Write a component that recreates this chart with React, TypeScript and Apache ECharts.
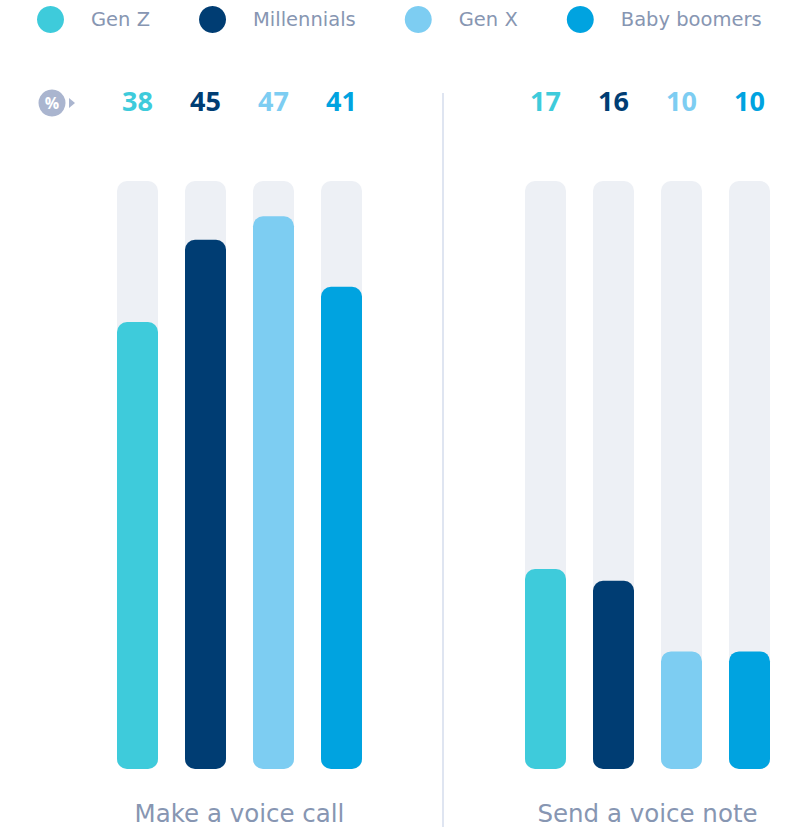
import React, { useEffect, useRef } from "react";
import * as echarts from "echarts";

const categories = ["Gen Z", "Millennials", "Gen X", "Baby boomers"];
const voiceCall = [38, 45, 47, 41];
const voiceNote = [17, 16, 10, 10];
const panelTitles = ["Make a voice call", "Send a voice note"];
const panelValues = [voiceCall, voiceNote];
const colors = ["#3ecbdb", "#003d73", "#7dcdf2", "#00a3e0"];
const scaleMax = 50;

const greyText = "#8796b2";
const track = "#edf0f5";

export default function App() {
  const ref = useRef<HTMLDivElement>(null);
  useEffect(() => {
    document.body.style.margin = "0";
    if (!ref.current) return;
    const chart = echarts.init(ref.current, undefined, { renderer: "svg" });
    const gridLefts = [103.5, 511.5];
    const grids = gridLefts.map((l) => ({
      left: l,
      width: 272,
      top: 181,
      height: 588,
      containLabel: false,
      outerBoundsMode: "none",
    }));
    const xAxes: any[] = [];
    panelTitles.forEach((t, p) => {
      xAxes.push({
        type: "category",
        gridIndex: p,
        data: categories,
        position: "bottom",
        axisLine: { show: false },
        axisTick: { show: false },
        axisLabel: { show: false },
        name: t,
        nameLocation: "middle",
        nameGap: 32,
        nameTextStyle: { color: greyText, fontSize: 24.5, lineHeight: 25, fontFamily: "DejaVu Sans" },
      });
    });
    panelValues.forEach((vals, p) => {
      const rich: any = {};
      colors.forEach((c, i) => {
        rich["c" + i] = { color: c, fontSize: 27, fontWeight: "bold", fontFamily: "Open Sans" };
      });
      xAxes.push({
        type: "category",
        gridIndex: p,
        data: categories,
        position: "top",
        axisLine: { show: false },
        axisTick: { show: false },
        axisLabel: {
          interval: 0,
          margin: 67,
          formatter: (_v: string, idx: number) => `{c${idx}|${vals[idx]}}`,
          rich,
        },
      });
    });
    const yAxes = panelTitles.map((_, p) => ({
      type: "value",
      gridIndex: p,
      min: 0,
      max: scaleMax,
      interval: 10,
      axisLine: { show: false },
      axisTick: { show: false },
      axisLabel: { show: false },
      splitLine: { show: false },
    }));
    const series: any[] = [];
    panelValues.forEach((vals, p) => {
      series.push({
        type: "bar",
        name: "track" + p,
        xAxisIndex: p,
        yAxisIndex: p,
        data: categories.map(() => scaleMax),
        barWidth: 41,
        barGap: "-100%",
        silent: true,
        z: 1,
        itemStyle: { color: track, borderRadius: 10 },
      });
      categories.forEach((c, i) => {
        series.push({
          type: "bar",
          name: c,
          xAxisIndex: p,
          yAxisIndex: p,
          data: categories.map((_, j) => (j === i ? vals[i] : "-")),
          barWidth: 41,
          barGap: "-100%",
          z: 2,
          itemStyle: { color: colors[i], borderRadius: 10 },
        });
      });
    });
    chart.setOption({
      animation: false,
      color: colors,
      legend: {
        data: categories,
        left: 37,
        top: 6,
        padding: 0,
        icon: "circle",
        itemWidth: 27,
        itemHeight: 27,
        itemGap: 49,
        textStyle: { color: greyText, fontSize: 19.5, fontFamily: "DejaVu Sans", padding: [0, 0, 0, 22] },
        selectedMode: false,
      },
      grid: grids,
      xAxis: xAxes,
      yAxis: yAxes,
      series,
      graphic: [
        { type: "circle", shape: { cx: 52, cy: 103, r: 13.5 }, style: { fill: "#aab5cf" } },
        { type: "polygon", shape: { points: [[69, 98], [75, 103], [69, 108]] }, style: { fill: "#aab5cf" } },
        {
          type: "text",
          x: 52,
          y: 103,
          style: { text: "%", fill: "#ffffff", fontSize: 16, fontWeight: "bold", fontFamily: "Open Sans", align: "center", verticalAlign: "middle" },
        },
        { type: "line", shape: { x1: 443, y1: 93, x2: 443, y2: 827 }, style: { stroke: "#dfe5f1", lineWidth: 2 } },
      ],
    });
    return () => chart.dispose();
  }, []);
  return <div ref={ref} style={{ width: 795, height: 827 }} />;
}
